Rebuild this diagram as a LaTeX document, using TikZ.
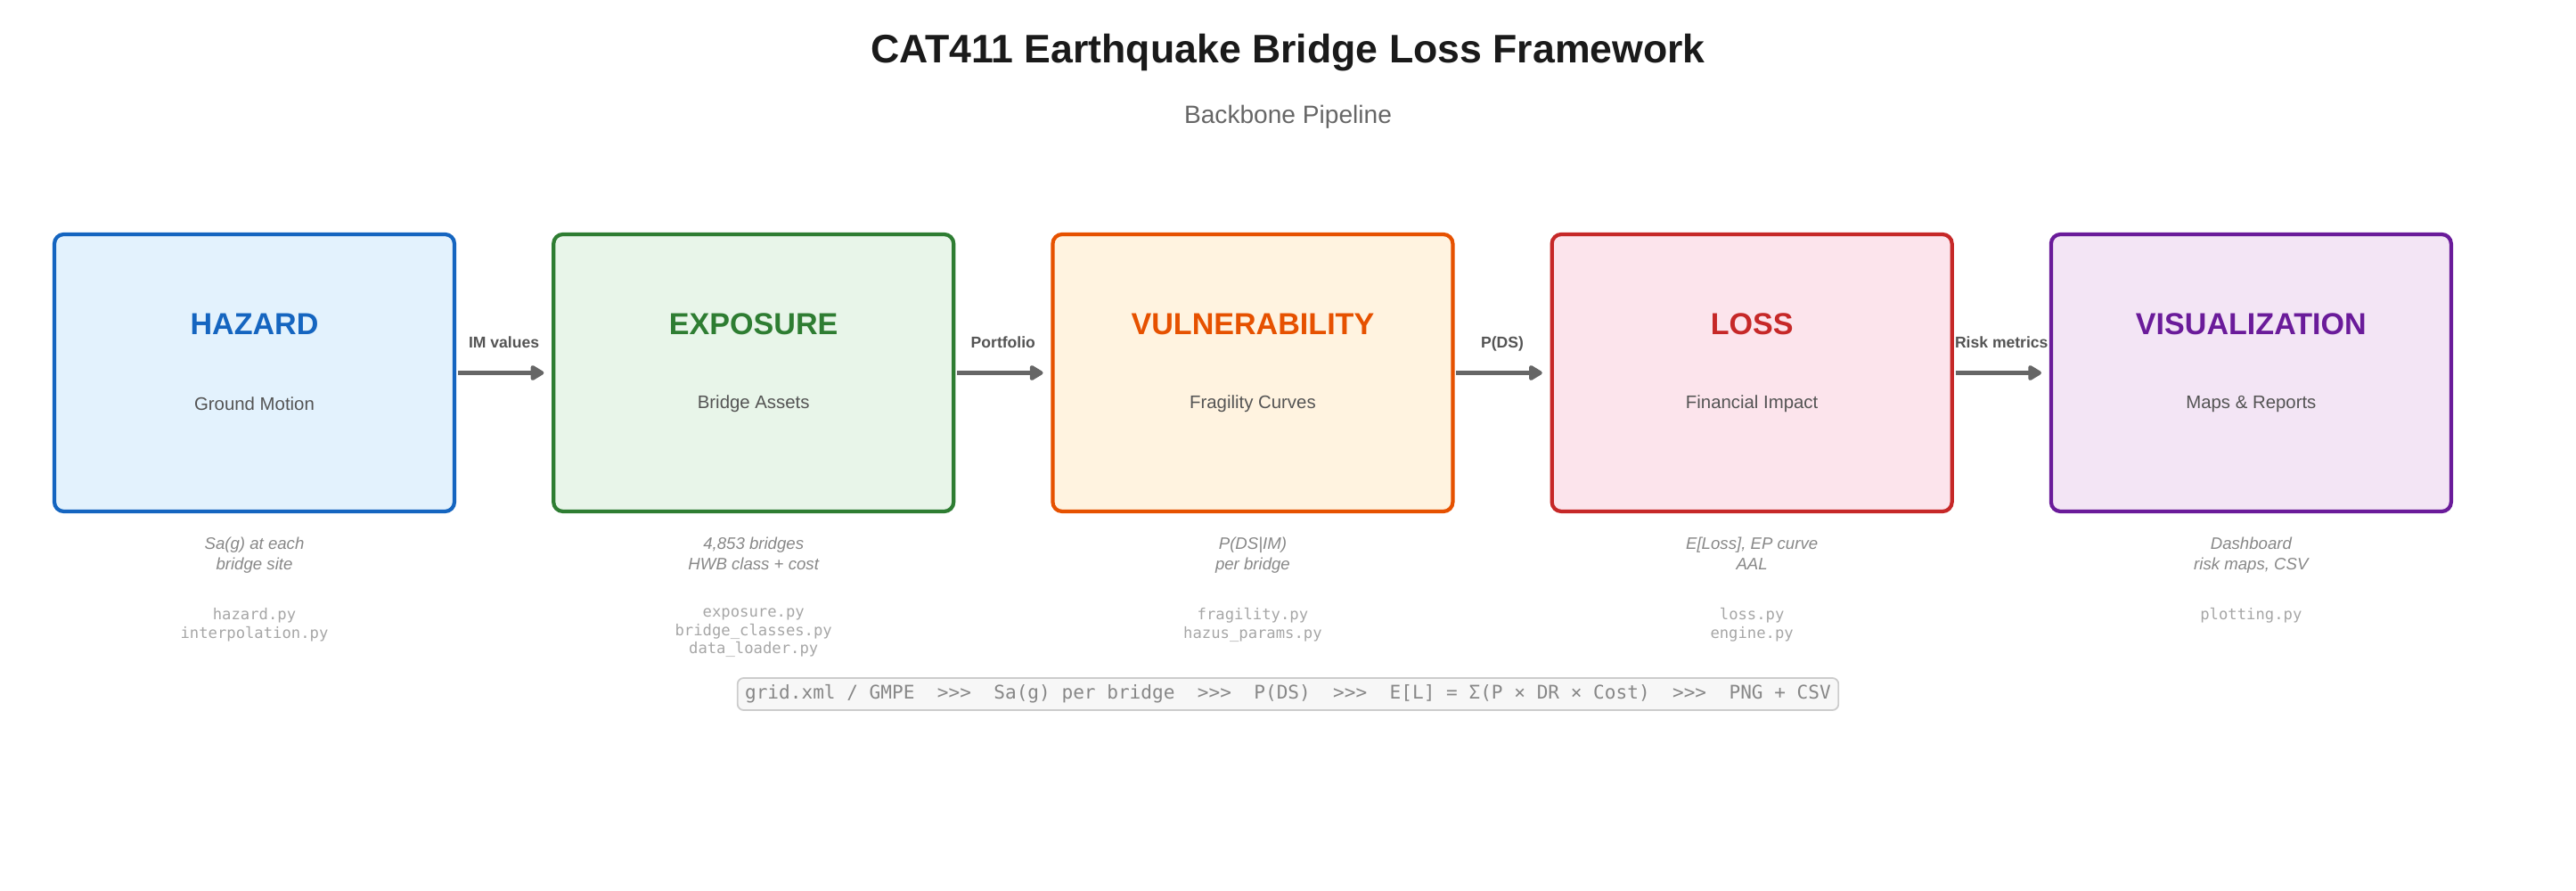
\documentclass[tikz,border=0pt]{standalone}
\usepackage{fontspec}
\setmainfont{Liberation Sans}
\setmonofont{DejaVu Sans Mono}
\usepackage{tikz}
\usetikzlibrary{arrows.meta,positioning,calc}
\definecolor{hazard}{HTML}{1565C0}
\definecolor{hazardbg}{HTML}{E3F2FD}
\definecolor{exposure}{HTML}{2E7D32}
\definecolor{exposurebg}{HTML}{E8F5E9}
\definecolor{vuln}{HTML}{E65100}
\definecolor{vulnbg}{HTML}{FFF3E0}
\definecolor{loss}{HTML}{C62828}
\definecolor{lossbg}{HTML}{FCE4EC}
\definecolor{visual}{HTML}{6A1B9A}
\definecolor{visualbg}{HTML}{F3E5F5}
\definecolor{ink}{HTML}{1A1A1A}
\definecolor{flowgray}{HTML}{666666}

\begin{document}
\begin{tikzpicture}[
  stage/.style={rectangle, draw=#1, fill=#1bg, line width=1.2pt,
                rounded corners=3pt, minimum width=4.49cm, minimum height=3.11cm},
  head/.style={font=\fontsize{9.7}{11}\selectfont\bfseries, text=#1},
  sub/.style={font=\fontsize{5.8}{7}\selectfont, text=black!67},
  desc/.style={font=\fontsize{5.3}{6.5}\selectfont\itshape, text=black!47,
               align=center, inner sep=0pt},
  files/.style={font=\fontsize{4.9}{5.9}\selectfont\ttfamily, text=black!35,
                align=center, inner sep=0pt},
  flow/.style={-{Triangle[length=4.8pt,width=5.4pt,round]}, line width=1.7pt,
               draw=flowgray, shorten >=2.5pt, shorten <=0.5pt},
  lab/.style={font=\fontsize{5}{6}\selectfont\bfseries, text=black!67, inner sep=0pt,
              text height=1.5ex, text depth=0.3ex},
  formula/.style={draw=black!20, fill=black!3, line width=0.5pt, rounded corners=2pt,
                  font=\fontsize{6}{7}\selectfont\ttfamily, text=black!47,
                  inner xsep=2.4pt, inner ysep=2.2pt},
]
  \useasboundingbox (0,0) rectangle (28.91,-10);

  % Title
  \node[font=\fontsize{12.7}{15}\selectfont\bfseries, text=ink] (title) at (14.455,-0.59)
    {CAT411 Earthquake Bridge Loss Framework};
  \node[font=\fontsize{8}{10}\selectfont, text=black!60] (subtitle) at (14.455,-1.31)
    {Backbone Pipeline};

  % Stages
  \node[stage=hazard] (haz) at (2.855,-4.185) {};
  \node[stage=exposure, right=1.07cm of haz] (exp) {};
  \node[stage=vuln, right=1.07cm of exp] (vul) {};
  \node[stage=loss, right=1.07cm of vul] (los) {};
  \node[stage=visual, right=1.07cm of los] (vis) {};

  \node[head=hazard] at ([yshift=0.55cm]haz.center) {HAZARD};
  \node[sub] at ([yshift=-0.35cm]haz.center) {Ground Motion};
  \node[head=exposure] at ([yshift=0.55cm]exp.center) {EXPOSURE};
  \node[sub] at ([yshift=-0.35cm]exp.center) {Bridge Assets};
  \node[head=vuln] at ([yshift=0.55cm]vul.center) {VULNERABILITY};
  \node[sub] at ([yshift=-0.35cm]vul.center) {Fragility Curves};
  \node[head=loss] at ([yshift=0.55cm]los.center) {LOSS};
  \node[sub] at ([yshift=-0.35cm]los.center) {Financial Impact};
  \node[head=visual] at ([yshift=0.55cm]vis.center) {VISUALIZATION};
  \node[sub] at ([yshift=-0.35cm]vis.center) {Maps \& Reports};

  % Flow
  \draw[flow] (haz) -- node[lab, above=5.5pt] {IM values} (exp);
  \draw[flow] (exp) -- node[lab, above=5.5pt] {Portfolio} (vul);
  \draw[flow] (vul) -- node[lab, above=5.5pt] {P(DS)} (los);
  \draw[flow] (los) -- node[lab, above=5.5pt] {Risk metrics} (vis);

  % Outputs and modules
  \node[desc, below=0.26cm of haz] (hazout) {Sa(g) at each\\bridge site};
  \node[files, below=1.06cm of haz] (hazpy) {hazard.py\\interpolation.py};
  \node[desc, below=0.26cm of exp] (expout) {4,853 bridges\\HWB class + cost};
  \node[files, below=1.06cm of exp] (exppy) {exposure.py\\bridge\_classes.py\\data\_loader.py};
  \node[desc, below=0.26cm of vul] (vulout) {P(DS|IM)\\per bridge};
  \node[files, below=1.06cm of vul] (vulpy) {fragility.py\\hazus\_params.py};
  \node[desc, below=0.26cm of los] (losout) {E[Loss], EP curve\\AAL};
  \node[files, below=1.06cm of los] (lospy) {loss.py\\engine.py};
  \node[desc, below=0.26cm of vis] (visout) {Dashboard\\risk maps, CSV};
  \node[files, below=1.06cm of vis] (vispy) {plotting.py};

  % Data chain
  \node[formula] (chain) at (14.455,-7.79)
    {grid.xml / GMPE\ \ >{}>{}>\ \ Sa(g) per bridge\ \ >{}>{}>\ \ P(DS)\ \ >{}>{}>\ \ E[L] = Σ(P × DR × Cost)\ \ >{}>{}>\ \ PNG + CSV};
\end{tikzpicture}
\end{document}
